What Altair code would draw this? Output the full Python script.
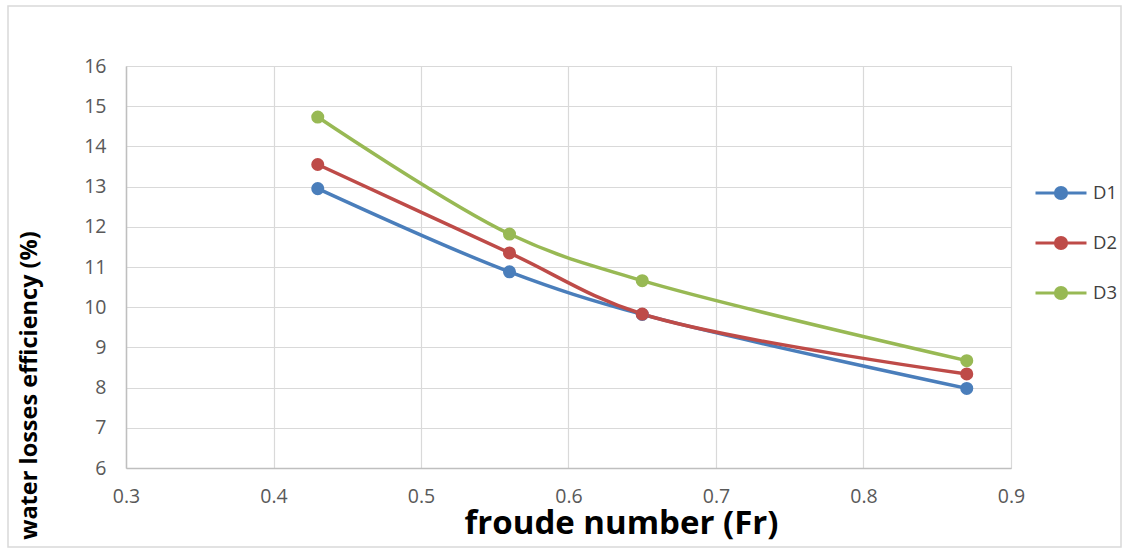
import altair as alt
import pandas as pd

froude = [0.43, 0.56, 0.65, 0.87]
d1 = [12.95, 10.88, 9.82, 7.98]
d2 = [13.55, 11.35, 9.83, 8.34]
d3 = [14.73, 11.82, 10.66, 8.67]
series_names = ["D1", "D2", "D3"]
colors = ["#4A7EBB", "#BE4B48", "#98B954"]
x_ticks = [0.3, 0.4, 0.5, 0.6, 0.7, 0.8, 0.9]
y_ticks = [6, 7, 8, 9, 10, 11, 12, 13, 14, 15, 16]

rows = []
for name, vals in zip(series_names, [d1, d2, d3]):
    for xv, yv in zip(froude, vals):
        rows.append({"Fr": xv, "eff": yv, "series": name})
df = pd.DataFrame(rows)

font = "Open Sans"

legend_path = "M-1,0H1M-0.22,0A0.22,0.22 0 1,1 0.22,0A0.22,0.22 0 1,1 -0.22,0Z"

color = alt.Color(
    "series:N",
    scale=alt.Scale(domain=series_names, range=colors),
    legend=alt.Legend(
        title=None,
        orient="none",
        legendX=908,
        legendY=100,
        symbolType=legend_path,
        symbolSize=2600,
        symbolStrokeWidth=3,
        labelFontSize=18.5,
        labelFont=font,
        labelColor="#404040",
        labelOffset=5,
        rowPadding=11,
    ),
)

x = alt.X(
    "Fr:Q",
    scale=alt.Scale(domain=[0.3, 0.9], nice=False, zero=False),
    axis=alt.Axis(
        values=x_ticks,
        format=".1f",
        title="froude number (Fr)",
        titleFont=font,
        titleFontSize=33,
        titleFontWeight="bold",
        titleColor="#000000",
        titleX=495,
        titleY=55,
        titleBaseline="middle",
        titleAlign="center",
        labelFont=font,
        labelFontSize=19.5,
        labelColor="#595959",
        labelPadding=19,
        labelFlush=False,
        labelOverlap=False,
        ticks=False,
        domainColor="#BFBFBF",
        domainWidth=1.5,
        gridColor="#D9D9D9",
        gridWidth=1.2,
    ),
)
y = alt.Y(
    "eff:Q",
    scale=alt.Scale(domain=[6, 16], nice=False, zero=False),
    axis=alt.Axis(
        values=y_ticks,
        title="water losses efficiency (%)",
        titleFont=font,
        titleFontSize=23.5,
        titleFontWeight="bold",
        titleColor="#000000",
        titleAngle=270,
        titleX=-97,
        titleY=319,
        titleAlign="center",
        titleBaseline="middle",
        labelFont=font,
        labelFontSize=19.5,
        labelColor="#595959",
        labelPadding=20,
        labelOverlap=False,
        ticks=False,
        domainColor="#BFBFBF",
        domainWidth=1.5,
        gridColor="#D9D9D9",
        gridWidth=1.2,
    ),
)

lines = alt.Chart(df).mark_line(interpolate="catmull-rom", strokeWidth=3.5).encode(
    x=x, y=y, color=color, detail="series:N"
)
points = alt.Chart(df).mark_point(filled=True, size=170, opacity=1).encode(
    x=x, y=y, color=alt.Color("series:N", scale=alt.Scale(domain=series_names, range=colors), legend=None)
)

frame = alt.Chart(alt.Data(values=[{}])).mark_rect(
    filled=False, stroke="#D9D9D9", strokeWidth=1.5
).encode(
    x=alt.value(-118), x2=alt.value(995), y=alt.value(-60), y2=alt.value(481)
)

chart = alt.layer(frame, lines, points).properties(
    width=885, height=402, padding={"left": 7, "top": 5, "right": 0, "bottom": 0}
).configure_view(stroke=None).configure(background="white")

chart.save("out.html", embed_options={"renderer": "svg", "actions": False})
